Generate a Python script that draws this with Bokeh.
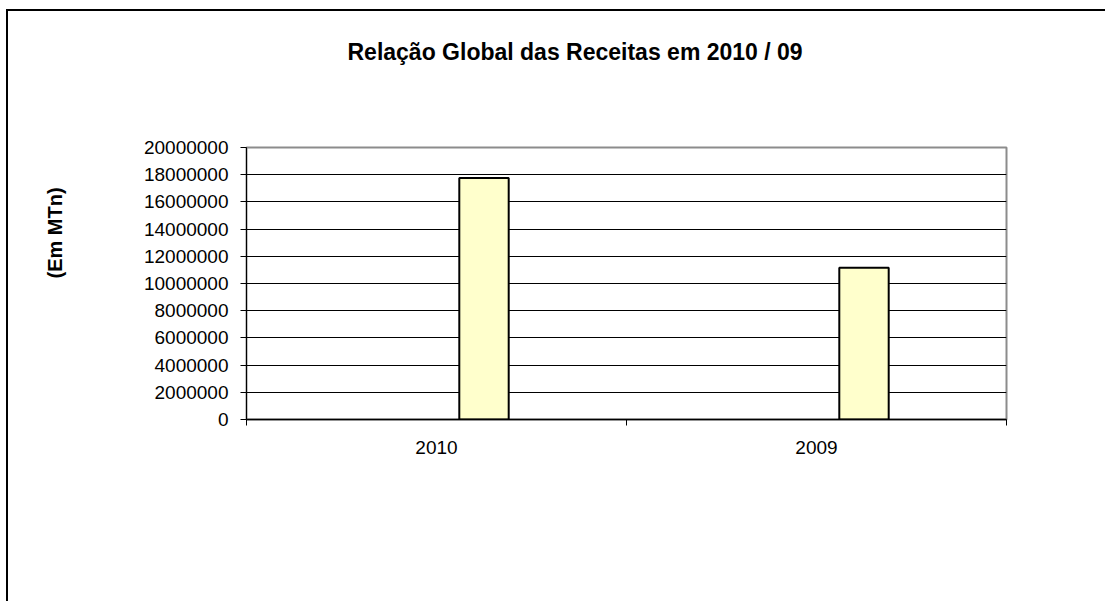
import numpy as np
from bokeh.plotting import figure
from bokeh.models import (FixedTicker, PrintfTickFormatter, Range1d, ColumnDataSource,
                          Title, LinearAxis)
from bokeh.embed import file_html
from bokeh.resources import INLINE

categories = ["2010", "2009"]
values = [17750000, 11150000]
y_ticks = [0, 2000000, 4000000, 6000000, 8000000, 10000000,
           12000000, 14000000, 16000000, 18000000, 20000000]
title_text = "Relação Global das Receitas em 2010 / 09"
y_label = "(Em MTn)"

FONT = "Liberation Sans"

n = len(categories)
centers = np.arange(n) + 0.5
src = ColumnDataSource(dict(x=centers + 0.125, top=values))

W, H = 1097, 590
p = figure(width=W, height=H, output_backend="svg", toolbar_location=None,
           x_range=Range1d(0, n), y_range=Range1d(0, 20000000),
           title=title_text)
p.frame_width = 760
p.frame_height = 272
p.min_border_left = 238
p.min_border_right = 99
p.min_border_top = 136
p.min_border_bottom = 182
p.background_fill_color = "white"
p.border_fill_color = "white"
p.outline_line_color = "#8c8c8c"
p.outline_line_width = 2
p.styles = {"border-top": "2px solid black", "border-left": "2px solid black",
            "margin-left": "6px", "margin-top": "9px"}

xax = p.below[0]
yax = p.left[0]


def spacer_axis(size, tick):
    # invisible axis used only to reserve space in a side panel
    return LinearAxis(ticker=FixedTicker(ticks=[tick], minor_ticks=[]),
                      major_label_overrides={float(tick): ""},
                      major_label_text_font_size="1px",
                      major_tick_out=size, major_tick_in=0,
                      major_tick_line_alpha=0.0,
                      minor_tick_out=0, minor_tick_in=0,
                      major_label_standoff=0,
                      axis_line_alpha=0.0)


p.vbar(x="x", top="top", width=0.13, bottom=0, source=src,
       fill_color="#FFFFCC", line_color="black", line_width=2)

# y axis
yax.ticker = FixedTicker(ticks=y_ticks)
yax.formatter = PrintfTickFormatter(format="%d")
yax.major_tick_out = 6
yax.major_tick_in = 0
yax.minor_tick_line_color = None
yax.axis_line_color = "black"
yax.major_tick_line_color = "black"
yax.major_label_text_font = FONT
yax.major_label_text_font_size = "19px"
yax.major_label_text_color = "black"
yax.major_label_standoff = 12

# x axis
xax.ticker = FixedTicker(ticks=list(centers), minor_ticks=list(range(n + 1)))
xax.major_label_overrides = {float(c): lab for c, lab in zip(centers, categories)}
xax.major_tick_line_color = None
xax.minor_tick_out = 6
xax.minor_tick_in = 0
xax.minor_tick_line_color = "black"
xax.axis_line_color = "black"
xax.axis_line_width = 1.5
xax.major_label_text_font = FONT
xax.major_label_text_font_size = "19px"
xax.major_label_text_color = "black"
xax.major_label_standoff = 15

p.xgrid.grid_line_color = None
p.ygrid.ticker = FixedTicker(ticks=y_ticks)
p.ygrid.grid_line_color = "black"
p.ygrid.grid_line_width = 1

# title, with an invisible spacer between it and the frame
p.add_layout(spacer_axis(76, 1.0), "above")
p.title.align = "left"
p.title.offset = 101
p.title.vertical_align = "top"
p.title.standoff = 10
p.title.text_font = FONT
p.title.text_font_style = "bold"
p.title.text_font_size = "23px"
p.title.text_color = "black"

# rotated y label, with an invisible spacer between it and the tick labels
ylab = Title(text=y_label, align="left", offset=141, standoff=10,
             vertical_align="top",
             text_font=FONT, text_font_style="bold", text_font_size="20px",
             text_color="black")
p.left = [yax, spacer_axis(68, 10000000.0), ylab]

open("out.html", "w").write(file_html(p, INLINE))
